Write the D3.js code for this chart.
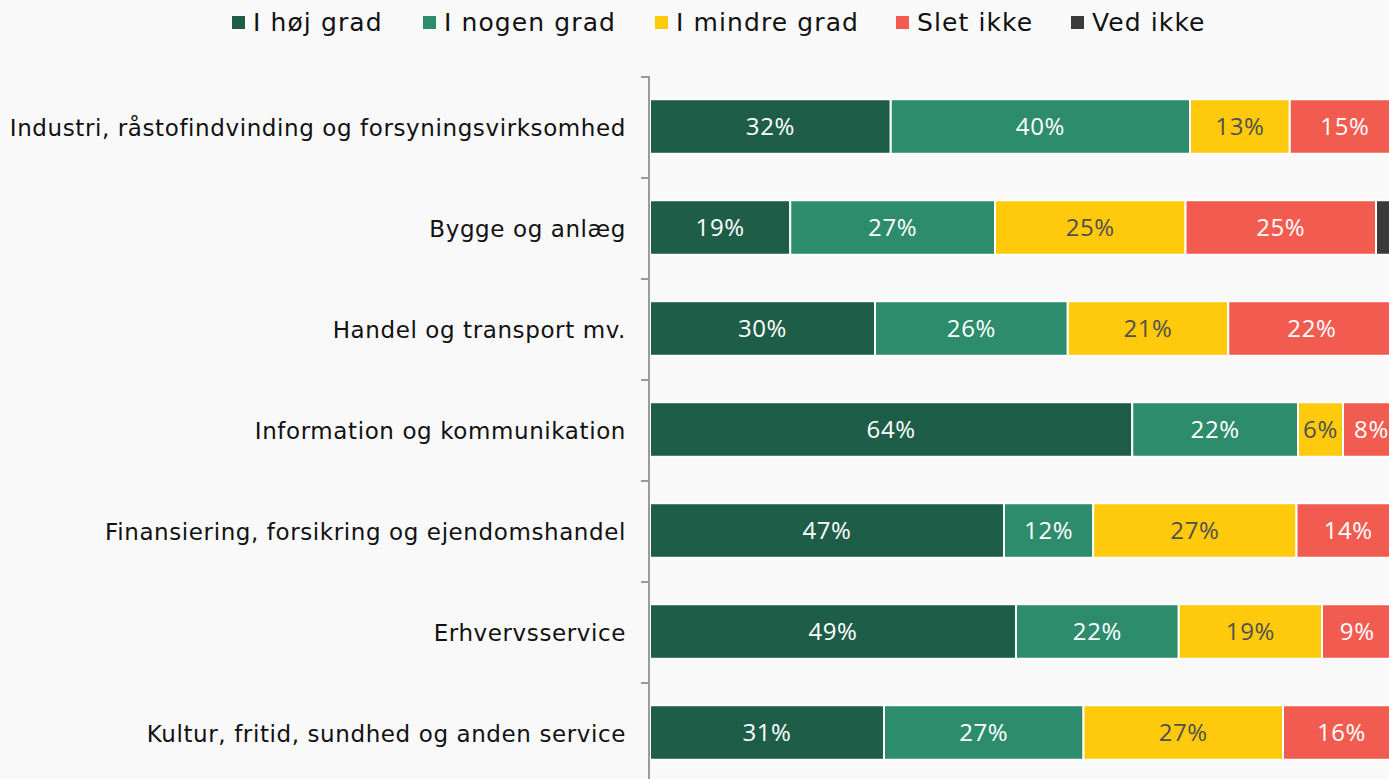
<!DOCTYPE html>
<html>
<head>
<meta charset="utf-8">
<script src="https://cdn.jsdelivr.net/npm/d3@7"></script>
<style>
  html, body { margin: 0; padding: 0; background: #f9f9f9; overflow: hidden; }
  svg { display: block; }
</style>
</head>
<body>
<svg id="chart" width="1389" height="779"></svg>
<script>
/* Data (percent of respondents) */
var categories = [
    "Industri, råstofindvinding og forsyningsvirksomhed",
    "Bygge og anlæg",
    "Handel og transport mv.",
    "Information og kommunikation",
    "Finansiering, forsikring og ejendomshandel",
    "Erhvervsservice",
    "Kultur, fritid, sundhed og anden service"
];
var seriesNames = ["I høj grad", "I nogen grad", "I mindre grad", "Slet ikke", "Ved ikke"];
var hojGrad    = [32.1, 18.7, 30.0, 64.3, 47.2, 48.8, 31.2];
var nogenGrad  = [39.9, 27.3, 25.7, 22.1, 11.9, 21.7, 26.6];
var mindreGrad = [13.3, 25.4, 21.4,  6.0, 27.1, 19.1, 26.6];
var sletIkke   = [14.7, 25.4, 22.3,  7.6, 13.8,  9.4, 15.6];
var vedIkke    = [ 0.0,  3.2,  0.6,  0.0,  0.0,  1.0,  0.0];

var colors = ["#1e5e48", "#2d8c6c", "#ffc90c", "#f25c50", "#3a3a3a"];
var labelColors = ["#ffffff", "#ffffff", "#505050", "#ffffff", "#ffffff"];

// build rows for d3.stack
var rows = categories.map(function (c, i) {
    return {
        cat: c,
        "I høj grad": hojGrad[i],
        "I nogen grad": nogenGrad[i],
        "I mindre grad": mindreGrad[i],
        "Slet ikke": sletIkke[i],
        "Ved ikke": vedIkke[i]
    };
});
var stacked = d3.stack().keys(seriesNames)(rows);

var svg = d3.select("#chart");
var axisX = 649;

var x = d3.scaleLinear().domain([0, 100]).range([axisX + 1, 1400]);
var y = d3.scaleBand().domain(categories).range([77, 784])
    .paddingInner(0.46).paddingOuter(0.23);

/* Bars */
var layers = svg.append("g").selectAll("g")
    .data(stacked)
    .enter().append("g")
    .attr("fill", function (d, i) { return colors[i]; });

layers.selectAll("rect")
    .data(function (d) { return d; })
    .enter().append("rect")
    .attr("x", function (d) { return x(d[0]); })
    .attr("y", function (d) { return y(d.data.cat) - 1; })
    .attr("width", function (d) { return x(d[1]) - x(d[0]); })
    .attr("height", y.bandwidth())
    .attr("stroke", "#ffffff")
    .attr("stroke-width", 2);

/* Value labels (too narrow segments stay unlabelled) */
layers.each(function (s, si) {
    d3.select(this).selectAll("text")
        .data(s.filter(function (d) { return d[1] - d[0] >= 5; }))
        .enter().append("text")
        .attr("x", function (d) { return (x(d[0]) + x(d[1])) / 2; })
        .attr("y", function (d) { return y(d.data.cat) - 1 + y.bandwidth() / 2; })
        .attr("dy", "0.35em")
        .attr("text-anchor", "middle")
        .attr("fill", labelColors[si])
        .style("font-family", "'Open Sans', sans-serif")
        .style("font-size", "24px")
        .style("letter-spacing", "0.6px")
        .text(function (d) { return Math.round(d[1] - d[0]) + "%"; });
});

/* Category axis */
var axis = svg.append("g")
    .attr("transform", "translate(" + axisX + ",0)")
    .call(d3.axisLeft(y).tickSize(0).tickPadding(23).tickSizeOuter(0));
axis.select(".domain").remove();
axis.selectAll("text")
    .attr("dy", "0.35em")
    .style("font-family", "'DejaVu Sans', Verdana, sans-serif")
    .style("font-size", "23px")
    .style("letter-spacing", "0.6px")
    .attr("fill", "#111");

svg.append("line")
    .attr("x1", axisX).attr("x2", axisX)
    .attr("y1", 76).attr("y2", 779)
    .attr("stroke", "#9a9a9a").attr("stroke-width", 2);

// ticks at band boundaries
var step = y.step();
var bounds = categories.map(function (c) { return y(c) - step * y.paddingInner() / 2; });
svg.append("g").selectAll("line")
    .data(bounds)
    .enter().append("line")
    .attr("x1", axisX - 8).attr("x2", axisX)
    .attr("y1", function (d) { return d; })
    .attr("y2", function (d) { return d; })
    .attr("stroke", "#9a9a9a").attr("stroke-width", 2);

/* Legend */
var legendX = [232, 423, 655, 896, 1071];
var legend = svg.append("g").selectAll("g")
    .data(seriesNames)
    .enter().append("g")
    .attr("transform", function (d, i) { return "translate(" + legendX[i] + ",22)"; });
legend.append("rect")
    .attr("x", 0).attr("y", -6)
    .attr("width", 13).attr("height", 13)
    .attr("fill", function (d, i) { return colors[i]; });
legend.append("text")
    .attr("x", 21)
    .attr("dy", "0.36em")
    .attr("fill", "#111")
    .style("font-family", "'DejaVu Sans', Verdana, sans-serif")
    .style("font-size", "25px")
    .style("letter-spacing", "1.1px")
    .text(function (d) { return d; });
</script>
</body>
</html>
